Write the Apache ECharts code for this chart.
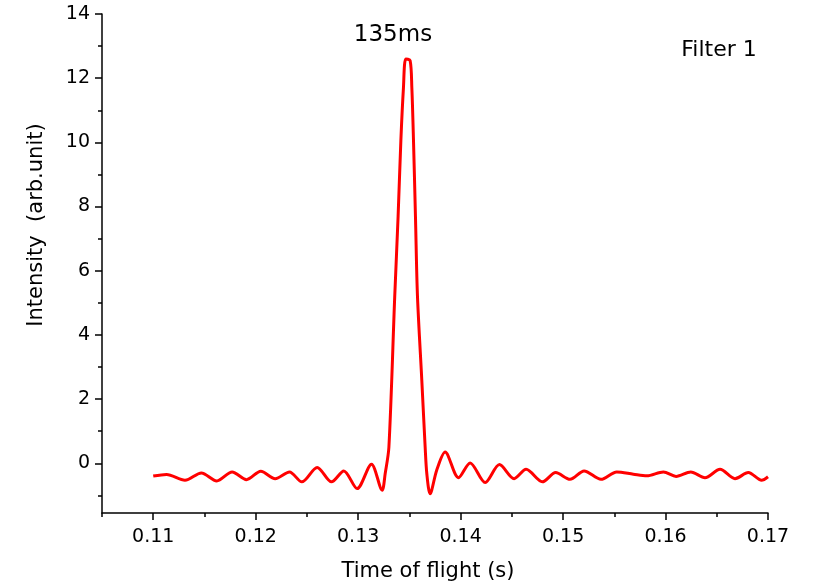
<!DOCTYPE html>
<html>
<head>
<meta charset="utf-8">
<script src="https://cdn.jsdelivr.net/npm/echarts@6/dist/echarts.min.js"></script>
<style>
html,body{margin:0;padding:0;background:#fff;}
#chart{width:830px;height:587px;}
</style>
</head>
<body>
<div id="chart"></div>
<script>
// ---- data ----
var timeOfFlight = [
  0.1100, 0.1113, 0.1131, 0.1147, 0.1162, 0.1177, 0.1191, 0.1205, 0.1219, 0.1233,
  0.1245, 0.1260, 0.1274, 0.1286, 0.1299, 0.1313, 0.13234, 0.13264, 0.13300,
  0.13357, 0.13390, 0.13417, 0.13442, 0.13465, 0.13507, 0.13524, 0.13540, 0.13560, 0.13579,
  0.13621, 0.13654, 0.13670, 0.13702, 0.13768, 0.13849, 0.13979, 0.14093, 0.1424, 0.14379,
  0.14522, 0.14639, 0.14798, 0.14928, 0.15068, 0.15205, 0.1537, 0.15524, 0.15686, 0.15817,
  0.15979, 0.16103, 0.16246, 0.16385, 0.16532, 0.16678, 0.16808, 0.16938, 0.1700
];
var intensity = [
  -0.40, -0.35, -0.53, -0.30, -0.55, -0.27, -0.51, -0.25, -0.48, -0.27,
  -0.58, -0.13, -0.58, -0.24, -0.79, -0.03, -0.84, -0.32, 0.5,
  5.2, 7.7, 10.07, 11.7, 12.6, 12.55, 11.7, 10.07, 7.6, 5.2,
  2.6, 0.5, -0.32, -0.95, -0.20, 0.35, -0.45, 0.01, -0.60, -0.04,
  -0.48, -0.19, -0.58, -0.29, -0.50, -0.24, -0.50, -0.27, -0.34, -0.39,
  -0.27, -0.41, -0.27, -0.45, -0.19, -0.48, -0.29, -0.53, -0.42
];
var xMajorTicks = [0.11, 0.12, 0.13, 0.14, 0.15, 0.16, 0.17];
var xMinorTicks = [0.105, 0.115, 0.125, 0.135, 0.145, 0.155, 0.165];
var yMajorTicks = [0, 2, 4, 6, 8, 10, 12, 14];
var yMinorTicks = [-1, 1, 3, 5, 7, 9, 11, 13];
var xTitle = 'Time of flight (s)';
var yTitle = 'Intensity  (arb.unit)';
var peakLabel = '135ms';
var filterLabel = 'Filter 1';

var FONT = 'DejaVu Sans';
var seriesData = timeOfFlight.map(function (t, i) { return [t, intensity[i]]; });

var chart = echarts.init(document.getElementById('chart'), null, {renderer: 'canvas'});
var axisLine = {show: true, onZero: false, lineStyle: {color: '#000', width: 1.5}};
chart.setOption({
  backgroundColor: '#fff',
  animation: false,
  grid: {left: 102, right: 62, top: 14, bottom: 74, containLabel: false},
  xAxis: [{
    type: 'value', min: 0.105, max: 0.17, interval: 0.005,
    axisLine: axisLine,
    splitLine: {show: false},
    axisTick: {show: true, length: 7, customValues: xMajorTicks, lineStyle: {color: '#000', width: 1.5}},
    axisLabel: {show: true, customValues: xMajorTicks, margin: 15, color: '#000',
      fontFamily: FONT, fontSize: 19, formatter: function (v) { return v.toFixed(2); }}
  }, {
    type: 'value', min: 0.105, max: 0.17, interval: 0.005, position: 'bottom',
    axisLine: {show: false, onZero: false},
    splitLine: {show: false},
    axisTick: {show: true, length: 4, customValues: xMinorTicks, lineStyle: {color: '#000', width: 1.5}},
    axisLabel: {show: false}
  }],
  yAxis: [{
    type: 'value', min: -1.55, max: 14,
    axisLine: axisLine,
    splitLine: {show: false},
    axisTick: {show: true, length: 7, customValues: yMajorTicks, lineStyle: {color: '#000', width: 1.5}},
    axisLabel: {show: true, customValues: yMajorTicks, margin: 12, color: '#000',
      fontFamily: FONT, fontSize: 19}
  }, {
    type: 'value', min: -1.55, max: 14, position: 'left',
    axisLine: {show: false, onZero: false},
    splitLine: {show: false},
    axisTick: {show: true, length: 4, customValues: yMinorTicks, lineStyle: {color: '#000', width: 1.5}},
    axisLabel: {show: false}
  }],
  graphic: [
    {type: 'text', x: 428, y: 572, style: {text: xTitle, font: '21px "DejaVu Sans"', fill: '#000', align: 'center', verticalAlign: 'middle'}},
    {type: 'text', x: 37, y: 225, rotation: Math.PI / 2, style: {text: yTitle, font: '21px "DejaVu Sans"', fill: '#000', align: 'center', verticalAlign: 'middle'}},
    {type: 'text', x: 393, y: 35, style: {text: peakLabel, font: '23px "DejaVu Sans"', fill: '#000', align: 'center', verticalAlign: 'middle'}},
    {type: 'text', x: 719, y: 50, style: {text: filterLabel, font: '22px "DejaVu Sans"', fill: '#000', align: 'center', verticalAlign: 'middle'}}
  ],
  series: [{
    type: 'line',
    xAxisIndex: 0, yAxisIndex: 0,
    data: seriesData,
    showSymbol: false,
    smooth: 0.3,
    lineStyle: {color: '#ff0000', width: 3},
    itemStyle: {color: '#ff0000'}
  }]
});
</script>
</body>
</html>
